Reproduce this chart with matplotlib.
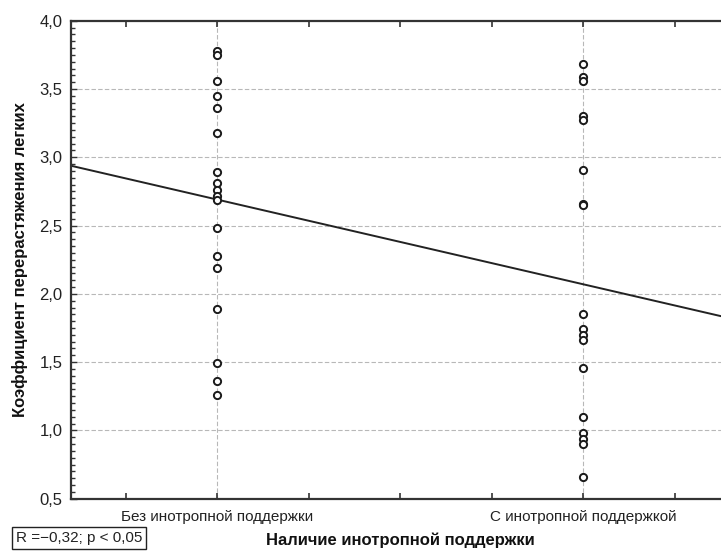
import matplotlib
matplotlib.use("Agg")
import matplotlib.pyplot as plt
from matplotlib.ticker import MultipleLocator, FuncFormatter, FixedLocator
import numpy as np

plt.rcParams['font.family'] = ['Liberation Sans', 'DejaVu Sans']

# Groups and observed coefficient values
groups = ["Без инотропной поддержки", "С инотропной поддержкой"]
without_support = [3.78, 3.75, 3.56, 3.45, 3.36, 3.18, 2.89, 2.81, 2.76, 2.72,
                   2.69, 2.48, 2.28, 2.19, 1.89, 1.49, 1.36, 1.26]
with_support = [3.68, 3.59, 3.56, 3.30, 3.27, 2.91, 2.66, 2.65, 1.85, 1.74,
                1.70, 1.66, 1.46, 1.10, 0.98, 0.94, 0.90, 0.66]

# Linear fit (intercept at group 0, change per group step)
fit_intercept = 2.69
fit_slope = -0.62

stat_text = "R =−0,32; p < 0,05"
x_title = "Наличие инотропной поддержки"
y_title = "Коэффициент перерастяжения легких"

W, H = 721, 551
fig = plt.figure(figsize=(W / 100, H / 100), dpi=100)
ax = fig.add_axes([71 / W, 1 - 498.7 / H, (729.6 - 71) / W, (498.7 - 20.7) / H])

xmin, xmax = -0.4, 1.4
ax.set_xlim(xmin, xmax)
ax.set_ylim(0.5, 4.0)

# Grid lines
for yv in np.arange(1.0, 4.0, 0.5):
    ax.axhline(yv, color="#b8b8b8", lw=0.8, ls=(0, (4, 2)), zorder=0)
for xv in (0, 1):
    ax.axvline(xv, color="#b8b8b8", lw=0.8, ls=(0, (4, 2)), zorder=0)

# Regression line
xl = np.array([xmin, xmax])
ax.plot(xl, fit_intercept + fit_slope * xl, color="#222222", lw=1.4, zorder=2)

# Scatter points
for i, vals in enumerate([without_support, with_support]):
    ax.plot(np.full(len(vals), i), vals, ls="none", marker="o", ms=5.2,
            mfc="white", mec="#1a1a1a", mew=1.4, zorder=3)

# Axes styling
for side in ("left", "bottom", "top"):
    ax.spines[side].set_linewidth(1.6)
    ax.spines[side].set_color("#333333")
ax.spines["right"].set_visible(False)

ax.yaxis.set_major_locator(MultipleLocator(0.5))
ax.yaxis.set_minor_locator(MultipleLocator(0.05))
ax.yaxis.set_major_formatter(FuncFormatter(lambda v, p: f"{v:.1f}".replace(".", ",")))
ax.tick_params(axis="y", which="major", direction="in", length=4, width=1.0,
               labelsize=12, colors="#333333", labelcolor="#222222", pad=6)
ax.tick_params(axis="y", which="minor", direction="in", length=3, width=1.0, colors="#333333")

ax.xaxis.set_major_locator(FixedLocator([0, 1]))
ax.xaxis.set_minor_locator(FixedLocator([-0.25, 0.25, 0.5, 0.75, 1.25]))
ax.set_xticklabels(groups)
ax.tick_params(axis="x", which="both", direction="in", length=4, width=1.2,
               top=True, colors="#333333", labelcolor="#222222", labelsize=11, pad=8)

ax.set_ylabel(y_title, fontsize=12, fontweight="bold", labelpad=8, color="#111111")
fig.text(400 / W, 1 - 540 / H, x_title, fontsize=12, fontweight="bold",
         ha="center", va="center", color="#111111")

fig.text(16 / W, 1 - 538 / H, stat_text, fontsize=11, va="center", ha="left", color="#222222",
         bbox=dict(boxstyle="square,pad=0.25", fc="white", ec="#222222", lw=1.0))

fig.savefig("out.png", dpi=100)
